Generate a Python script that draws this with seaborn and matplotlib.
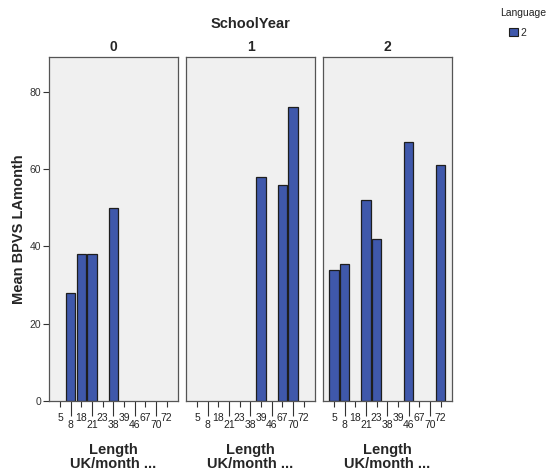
import matplotlib
matplotlib.use("Agg")
import matplotlib.pyplot as plt
import seaborn as sns
import pandas as pd
import numpy as np
from matplotlib.patches import Patch

# ---- data ----
categories = ["5", "8", "18", "21", "23", "38", "39", "46", "67", "70", "72"]
school_years = [0, 1, 2]
year0_lengths = ["8", "18", "21", "38"]
year0_values = [28, 38, 38, 50]
year1_lengths = ["39", "67", "70"]
year1_values = [58, 56, 76]
year2_lengths = ["5", "8", "21", "23", "46", "72"]
year2_values = [34, 35.5, 52, 42, 67, 61]
y_ticks = [0, 20, 40, 60, 80]

rows = []
for yr, lens, vals in zip(school_years,
                          [year0_lengths, year1_lengths, year2_lengths],
                          [year0_values, year1_values, year2_values]):
    for l, v in zip(lens, vals):
        rows.append({"SchoolYear": yr, "Length": l, "BPVS": v})
df = pd.DataFrame(rows)

sns.set_style("white")
plt.rcParams["font.family"] = ["Liberation Sans", "DejaVu Sans"]

W, H = 552, 476
fig = plt.figure(figsize=(W / 100, H / 100), dpi=100)
fig.patch.set_facecolor("white")

panel_left_px = [49, 186, 323]
panel_w_px = 129
top_px, bot_px = 57, 401

bar_color = "#3F58AB"
edge_color = "#1E1E1E"
frame_color = "#555555"

for i, yr in enumerate(school_years):
    ax = fig.add_axes([panel_left_px[i] / W, (H - bot_px) / H,
                       panel_w_px / W, (bot_px - top_px) / H])
    sub = df[df["SchoolYear"] == yr]
    sns.barplot(data=sub, x="Length", y="BPVS", order=categories,
                color=bar_color, saturation=1, edgecolor=edge_color,
                linewidth=0.9, width=0.87, errorbar=None, ax=ax)
    ax.set_facecolor("#F0F0F0")
    ax.set_xlim(-1.03, 11.06)
    ax.set_ylim(0, 89)
    for s in ax.spines.values():
        s.set_color(frame_color)
        s.set_linewidth(0.9)
        s.set_visible(True)
    pos = np.arange(len(categories))
    ax.set_xticks(pos[::2], labels=categories[::2])
    ax.set_xticks(pos[1::2], labels=categories[1::2], minor=True)
    ax.tick_params(axis="x", which="major", bottom=True, length=4.5, width=0.8,
                   color="#333333", pad=4, labelsize=7.5, labelcolor="#222222")
    ax.tick_params(axis="x", which="minor", bottom=True, length=10.5, width=0.8,
                   color="#333333", pad=3.5, labelsize=7.5, labelcolor="#222222")
    ax.set_xlabel("Length\nUK/month ...", fontsize=10.5, fontweight="bold",
                  labelpad=9, linespacing=1.0)
    ax.set_title(str(yr), fontsize=10, fontweight="bold", pad=4)
    if i == 0:
        ax.set_yticks(y_ticks)
        ax.tick_params(axis="y", left=True, length=4, width=0.8, color="#333333",
                       labelsize=7.5, labelcolor="#333333", pad=1.5)
        ax.set_ylabel("Mean BPVS LAmonth", fontsize=10.5, fontweight="bold",
                      labelpad=3)
    else:
        ax.set_yticks([])
        ax.set_ylabel("")

fig.text(251 / W, 1 - 24 / H, "SchoolYear", ha="center", va="center",
         fontsize=10.5, fontweight="bold")

fig.text(523 / W, 1 - 13 / H, "Language", ha="center", va="center",
         fontsize=7.5, color="#222222")
handle = Patch(facecolor=bar_color, edgecolor=edge_color, linewidth=0.8)
fig.legend(handles=[handle], labels=["2"], loc="center",
           bbox_to_anchor=(518 / W, 1 - 33 / H), frameon=False,
           fontsize=7.5, handlelength=0.8, handleheight=0.8,
           handletextpad=0.3, borderpad=0)

fig.savefig("out.png", dpi=100)
